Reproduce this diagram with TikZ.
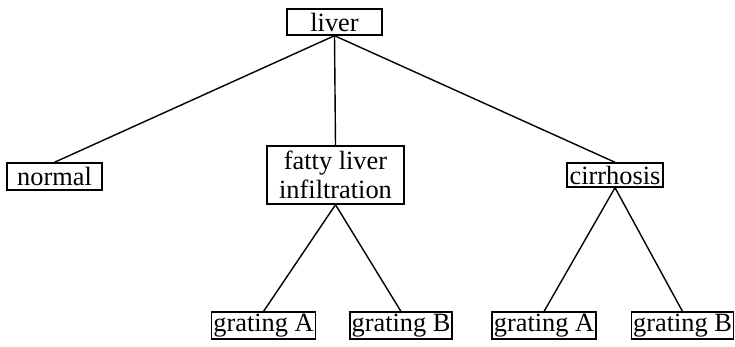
\documentclass[tikz,border=0pt]{standalone}
\usepackage{fontspec}
\setmainfont{Liberation Serif}
\usetikzlibrary{positioning}

\begin{document}
\begin{tikzpicture}[
    box/.style={rectangle, draw, line width=0.8pt, inner xsep=1pt, inner ysep=1pt, minimum height=0.5cm, align=center, font=\fontsize{15}{16.5}\selectfont},
    link/.style={line width=0.8pt}
]
\useasboundingbox (0,0) rectangle (14.7,6.94);
\node[box, minimum width=1.9cm, minimum height=0.52cm] (liver) at (6.69,6.50) {liver};
\node[box, minimum width=1.9cm, minimum height=0.54cm] (normal) at (1.09,3.41) {normal};
\node[box, minimum width=2.74cm, minimum height=1.16cm] (fatty) at (6.71,3.44) {fatty liver\\infiltration};
\node[box, minimum width=1.92cm, minimum height=0.48cm] (cirr) at (12.30,3.44) {cirrhosis};
\node[box, minimum width=2.02cm] (fattyA) at (5.27,0.43) {grating A};
\node[box, minimum width=1.96cm] (fattyB) at (8.02,0.43) {grating B};
\node[box, minimum width=2.04cm] (cirrA) at (10.88,0.43) {grating A};
\node[box, minimum width=2.02cm] (cirrB) at (13.65,0.43) {grating B};

\draw[link] (liver.south) -- (normal.north);
\draw[link] (liver.south) -- (fatty.north);
\draw[link] (liver.south) -- (cirr.north);
\draw[link] (fatty.south) -- (fattyA.north);
\draw[link] (fatty.south) -- (fattyB.north);
\draw[link] (cirr.south) -- (cirrA.north);
\draw[link] (cirr.south) -- (cirrB.north);
\end{tikzpicture}
\end{document}
